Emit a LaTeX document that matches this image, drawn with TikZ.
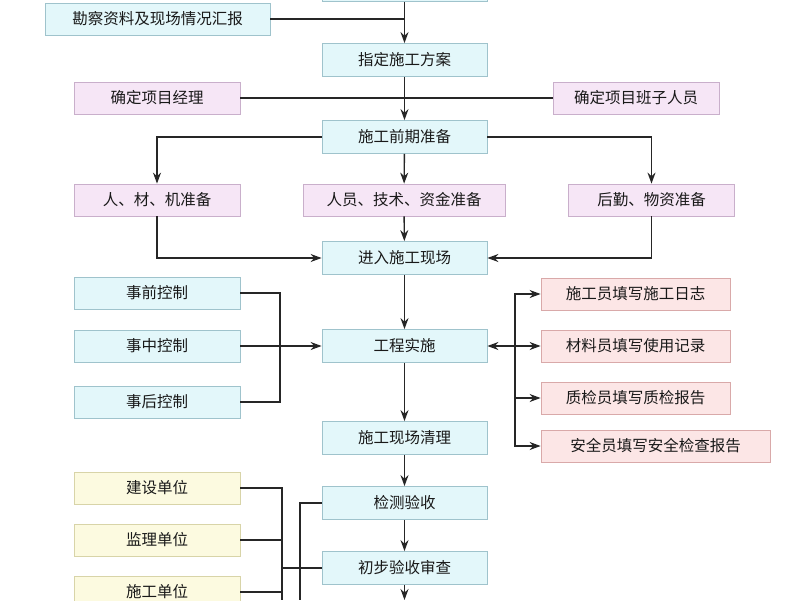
\documentclass[tikz,border=0pt]{standalone}
\usepackage{fontspec}
\setmainfont{Noto Sans CJK SC}
\usetikzlibrary{arrows.meta}
\definecolor{bfill}{HTML}{E3F7FA}\definecolor{bdraw}{HTML}{9FC3CC}
\definecolor{pfill}{HTML}{F6E6F6}\definecolor{pdraw}{HTML}{C9AFCB}
\definecolor{rfill}{HTML}{FCE6E6}\definecolor{rdraw}{HTML}{D9A9A9}
\definecolor{yfill}{HTML}{FCFAE0}\definecolor{ydraw}{HTML}{D8D4A8}
\begin{document}
\begin{tikzpicture}[x=1pt,y=-1pt,
 box/.style={draw,line width=0.8pt,inner sep=0pt,font=\fontsize{15.5}{15.5}\selectfont,text=black!90},
 B/.style={box,fill=bfill,draw=bdraw,minimum width=165pt,minimum height=33pt},
 P/.style={box,fill=pfill,draw=pdraw,minimum width=166pt,minimum height=32pt},
 R/.style={box,fill=rfill,draw=rdraw,minimum height=32pt},
 Y/.style={box,fill=yfill,draw=ydraw,minimum width=166pt,minimum height=32pt},
 ln/.style={line width=1.4pt,black!85},
 tip/.tip={Stealth[length=11pt,width=8pt]},
 ar/.style={ln,-tip}]
\useasboundingbox (0,0) rectangle (800,600);
\fill[white] (0,0) rectangle (800,600);
\begin{scope}
\clip (0,0) rectangle (800,600);
% center column
\node[B] (t0) at (404.5,-15) {};
\node[B] (t1) at (404.5,60) {指定施工方案};
\node[B] (t2) at (404.5,137) {施工前期准备};
\node[B] (t3) at (404.5,258) {进入施工现场};
\node[B] (t4) at (404.5,346) {工程实施};
\node[B] (t5) at (404.5,438) {施工现场清理};
\node[B] (t6) at (404.5,503) {检测验收};
\node[B] (t7) at (404.5,568) {初步验收审查};
\coordinate (bot) at (404.5,600);
% side boxes
\node[B,minimum width=225pt,minimum height=32pt] (kc) at (157.5,19) {勘察资料及现场情况汇报};
\node[P] (jl) at (157,98) {确定项目经理};
\node[P] (bz) at (636,98) {确定项目班子人员};
\node[P] (rc) at (157,200) {人、材、机准备};
\node[P,minimum width=202pt] (ry) at (404,200) {人员、技术、资金准备};
\node[P] (hq) at (651.5,200) {后勤、物资准备};
\node[B,minimum width=166pt,minimum height=32pt] (sq) at (157,293) {事前控制};
\node[B,minimum width=166pt,minimum height=32pt] (sz) at (157,346) {事中控制};
\node[B,minimum width=166pt,minimum height=32pt] (sh) at (157,402) {事后控制};
\node[R,minimum width=189pt] (r1) at (635.5,294) {施工员填写施工日志};
\node[R,minimum width=189pt] (r2) at (635.5,346) {材料员填写使用记录};
\node[R,minimum width=189pt] (r3) at (635.5,398) {质检员填写质检报告};
\node[R,minimum width=229pt] (r4) at (655.5,446) {安全员填写安全检查报告};
\node[Y] (y1) at (157,488) {建设单位};
\node[Y] (y2) at (157,540) {监理单位};
\node[Y] (y3) at (157,592) {施工单位};
% connectors
\draw[ar] (t0) -- (t1);
\draw[ln] (kc.east) -- (t0.south |- kc.east);
\draw[ar] (t1) -- (t2);
\draw[ln] (jl.east) -- (bz.west);
\draw[ar] (t2.west) -| (rc.north);
\draw[ar] (t2.east) -| (hq.north);
\draw[ar] (t2) -- (ry);
\draw[ar] (ry) -- (t3);
\draw[ar] (rc.south) |- (t3.west);
\draw[ar] (hq.south) |- (t3.east);
\draw[ln] (sq.east) -| (280,402) -- (sh.east);
\draw[ar] (sz.east) -- (t4.west);
\draw[ar] (t3) -- (t4);
\draw[ln,tip-tip] (t4.east) -- (r2.west);
\coordinate (br) at (515,346);
\draw[ar] (br) |- (r1.west);
\draw[ar] (br) |- (r3.west);
\draw[ar] (br) |- (r4.west);
\draw[ar] (t4) -- (t5);
\draw[ar] (t5) -- (t6);
\draw[ar] (t6) -- (t7);
\draw[ar] (t7) -- (bot);
\draw[ln] (y1.east) -| (282,600);
\draw[ln] (y2.east) -- (282,540);
\draw[ln] (y3.east) -- (282,592);
\draw[ln] (t6.west) -| (300,600);
\draw[ln] (282,568) -- (t7.west);
\end{scope}
\end{tikzpicture}
\end{document}
